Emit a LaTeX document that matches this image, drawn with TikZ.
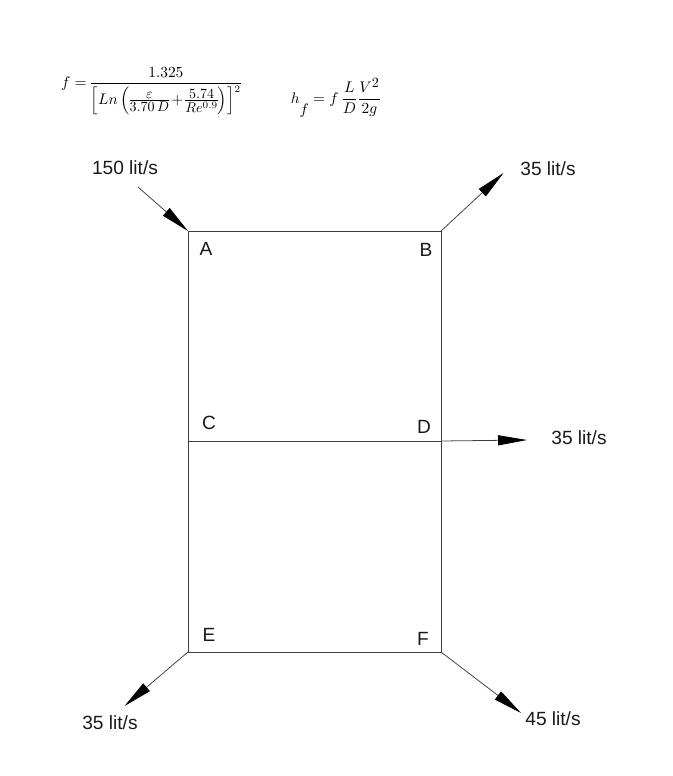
\documentclass[tikz,border=0pt]{standalone}
\usepackage{amsmath}
\usepackage{amssymb}
\usepackage{fontspec}
\setmainfont{Liberation Sans}
\usetikzlibrary{arrows.meta}
\DeclareMathSizes{11}{11}{10}{7}
\tikzset{
	pipe/.style={draw=black!75,line width=0.55pt},
	flow/.style={pipe,-{Triangle[length=20.6pt,width=7.2pt,color=black]}},
	flowlabel/.style={font=\fontsize{13.6}{16}\selectfont,text=black!90,inner sep=0pt},
	jointlabel/.style={font=\fontsize{13.6}{16}\selectfont,text=black!90,inner sep=0pt},
	formula/.style={font=\fontsize{11}{13}\selectfont,text=black,inner sep=0pt}
}
\begin{document}
\begin{tikzpicture}[x=0.025cm,y=-0.025cm]
			\useasboundingbox (0,0) rectangle (672,776);
			
			\coordinate (A) at (188,231);
			\coordinate (B) at (441,231);
			\coordinate (C) at (188,441);
			\coordinate (D) at (441,441);
			\coordinate (E) at (188,652);
			\coordinate (F) at (441,652);
			
			\coordinate (inA) at (138,187);
			\coordinate (outB) at (503.5,173);
			\coordinate (outD) at (527,440);
			\coordinate (outE) at (124.5,706);
			\coordinate (outF) at (521,713);
			
			\draw[pipe] (A) -- (B) -- (F) -- (E) -- cycle;
			\draw[pipe] (C) -- (D);
			
			\draw[flow] (inA) -- (A);
			\foreach \from/\to in {B/outB,D/outD,E/outE,F/outF}
			\draw[flow] (\from) -- (\to);
			
			\foreach \name/\x/\y in {A/206/249,B/426/250,C/209/423,D/424/427,E/209/635,F/423/639}
			\node[jointlabel] (label\name) at (\x,\y) {\name};
			
			\node[flowlabel] (flowA) at (125,168) {150 lit/s};
			\node[flowlabel] (flowB) at (548,169) {35 lit/s};
			\node[flowlabel] (flowD) at (579,438) {35 lit/s};
			\node[flowlabel] (flowE) at (110,723) {35 lit/s};
			\node[flowlabel] (flowF) at (553,719) {45 lit/s};
			
			\node[formula] (friction) at (151,91) {\nulldelimiterspace=0pt\medmuskip=2.5mu$\displaystyle f=\frac{1.325}{\left[Ln\left(\frac{\varepsilon}{3.70\,D}+\frac{5.74}{Re^{0.9}}\right)\right]^{\scriptscriptstyle 2}}$};
			\node[formula] (headloss) at (336,98) {$\displaystyle h\raisebox{-1.4ex}{$f$}=f\,\frac{L}{D}\frac{V^{2}}{2g}$};
			\end{tikzpicture}
\end{document}
